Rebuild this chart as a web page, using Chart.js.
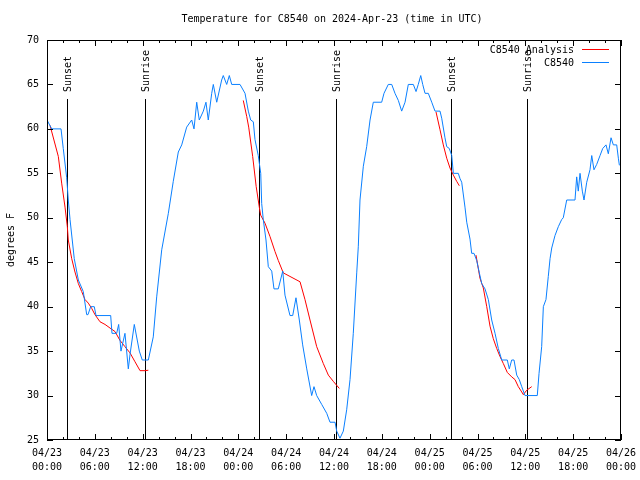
<!DOCTYPE html>
<html><head><meta charset="utf-8">
<script src="https://cdn.jsdelivr.net/npm/chart.js@4/dist/chart.umd.min.js"></script>
<style>html,body{margin:0;padding:0;background:#fff}#wrap{width:640px;height:480px}</style>
</head><body><div id="wrap"><canvas id="c" width="640" height="480"></canvas></div>
<script>
// Hours since 04/23 00:00 UTC
const obsHours = [0,0.59,1.76,2.04,2.47,2.67,2.89,3.42,3.93,4.55,4.98,5.14,5.48,5.93,6.15,7.99,8.15,8.74,8.99,9.28,9.78,10.2,10.41,10.95,11.58,11.95,12.71,13.33,13.76,14.39,15.22,15.84,16.47,16.9,17.52,18.15,18.44,18.78,19.1,19.61,19.94,20.23,20.66,20.86,21.29,21.91,22.11,22.54,22.87,23.17,24.21,24.84,25.25,25.55,25.88,26.09,26.5,26.81,26.93,27.13,27.47,27.76,28.19,28.47,29.01,29.57,29.85,30.48,30.82,31.23,31.65,32.07,32.58,33.2,33.49,33.83,34.46,35.09,35.5,36.13,36.34,36.75,37.17,37.59,38.01,38.42,38.85,39.05,39.26,39.68,40.1,40.52,40.93,41.98,42.27,42.81,43.24,43.65,44.07,44.49,44.91,45.32,45.95,46.29,46.57,46.88,47.13,47.42,47.83,48.26,48.67,49.3,49.51,49.92,50.14,50.46,50.77,50.97,51.59,51.81,52.02,52.43,52.65,53.06,53.27,53.56,53.9,54.23,54.53,54.94,55.36,55.78,56.2,56.61,57.04,57.74,57.99,58.29,58.58,58.92,59.24,59.55,59.96,61.5,61.72,62.05,62.26,62.59,62.88,63.1,63.31,63.72,64.14,64.56,64.76,65.19,66.23,66.44,66.64,66.86,67.15,67.36,67.7,68.11,68.33,68.61,68.95,69.37,69.71,70.12,70.41,70.75,71.04,71.46,71.67,71.8];
const obsTemps = [61,60,60,57.8,54.5,52,49.8,45.4,43,41.7,39.1,39.1,40,40,39,39,37,37,38,35,37,33,34.6,38,35,34,34,36.6,41.1,46.4,50.5,54.1,57.4,58.2,60.2,61,60,63,61,62,63,61,64,65,63,65.5,66,65,66,65,65,64,62,61,60.8,58.8,57,55,51.6,49.8,47.5,44.5,44,42,42,44,41.3,39,39,41,38.5,35.7,33,30,31,30,29,28,27,27,26,25.2,26,28.4,31.8,37,43.8,46.8,52,55.8,58,61,63,63,64,65,65,64,63.2,62,63,65,65,64.2,65,66,65,64,64,63,62,62,61.2,59,58,57.8,57,55,55,54.4,54,51.2,49.5,47.6,46,46,45.2,43.8,42.6,42,40.8,38.5,37,35.3,34,34,33,34,34,32.3,31.8,31,30,30,32.5,35.5,40,40.8,43.4,45.4,46.6,48,49,49.8,50,52,52,54.6,53,55,53,52,54,55.4,57,55.4,56,57,57.8,58.2,57.2,59,58.2,58.2,56.7,55.9];
// C8540 Analysis (null = break between runs)
const anaHours = [0.38,1.42,1.84,2.26,2.55,2.67,3.1,3.51,3.93,4.35,4.77,5.18,5.61,6.02,6.65,7.28,7.9,8.53,9.16,9.78,10.41,11.04,11.67,12.3,12.71,
  18,
  24.62,25.05,25.3,25.8,26.24,26.63,26.8,27.34,27.97,28.6,29.01,29.64,30.48,31.11,31.74,32.36,32.99,33.83,34.66,35.29,35.91,36.67,
  42,
  48.8,49.3,49.71,50.14,50.55,50.97,51.39,51.72,
  52.8,
  53.81,54.31,54.73,55.16,55.57,55.98,56.41,56.82,57.24,57.74,58.29,58.7,59.12,59.55,59.75,60.17,60.8];
const anaTemps = [60.4,56.9,53.9,51.2,49,47.5,45.4,43.9,42.6,41.7,40.8,40.4,39.8,39.1,38.3,38,37.6,37.2,36.2,35.5,34.8,33.8,32.8,32.8,32.85,
  null,
  63.2,61.4,60.2,56.9,53.5,51.2,50.3,49.4,47.9,46.2,45.2,43.8,43.4,43.1,42.8,40.8,38.5,35.5,33.6,32.3,31.6,30.8,
  null,
  61.9,59.9,58.2,56.7,55.6,54.8,54.1,53.6,
  null,
  45.8,43.2,42.1,40,37.8,36.4,35.3,34.4,33.6,32.6,32.1,31.8,31,30.4,30.1,30.6,31];
const sunHours = [2.55,12.33,26.63,36.3,50.7,60.25];
const sunLabels = ['Sunset','Sunrise','Sunset','Sunrise','Sunset','Sunrise'];
const xTickHours = [0,6,12,18,24,30,36,42,48,54,60,66,72];
const xTickLabels = [['04/23','00:00'],['04/23','06:00'],['04/23','12:00'],['04/23','18:00'],['04/24','00:00'],['04/24','06:00'],['04/24','12:00'],['04/24','18:00'],['04/25','00:00'],['04/25','06:00'],['04/25','12:00'],['04/25','18:00'],['04/26','00:00']];
const yTickValues = [25,30,35,40,45,50,55,60,65,70];
const titleText = 'Temperature for C8540 on 2024-Apr-23 (time in UTC)';
const seriesNames = ['C8540 Analysis','C8540'];
const seriesColors = ['#ff0000','#0a80ff'];

const FONT = '10px "DejaVu Sans Mono", monospace';
const obsData = obsHours.map((h,i)=>({x:h,y:obsTemps[i]}));
const anaData = anaHours.map((h,i)=>({x:h,y:anaTemps[i]}));

const decor = {
  id:'decor',
  beforeDraw(chart){
    const ctx=chart.ctx; ctx.save(); ctx.fillStyle='#fff'; ctx.fillRect(0,0,chart.width,chart.height); ctx.restore();
  },
  beforeDatasetsDraw(chart){
    const ctx=chart.ctx, xs=chart.scales.x, a=chart.chartArea;
    ctx.save();
    ctx.strokeStyle='#000'; ctx.lineWidth=1; ctx.fillStyle='#000'; ctx.font=FONT;
    sunHours.forEach((h,i)=>{
      const px=Math.round(xs.getPixelForValue(h))+0.5;
      ctx.beginPath(); ctx.moveTo(px,99); ctx.lineTo(px,a.bottom); ctx.stroke();
      ctx.save(); ctx.translate(px+1,92); ctx.rotate(-Math.PI/2);
      ctx.textAlign='left'; ctx.textBaseline='middle'; ctx.fillText(sunLabels[i],0,0);
      ctx.restore();
    });
    ctx.restore();
  },
  afterDraw(chart){
    const ctx=chart.ctx, xs=chart.scales.x, ys=chart.scales.y, a=chart.chartArea;
    ctx.save();
    ctx.strokeStyle='#000'; ctx.lineWidth=1;
    ctx.strokeRect(a.left+0.5,a.top+0.5,a.right-a.left-1,a.bottom-a.top-1);
    ctx.beginPath();
    for(let h=0;h<=72;h+=2){
      const px=Math.round(xs.getPixelForValue(h))+0.5;
      const len=(h%6===0)?6:3;
      ctx.moveTo(px,a.bottom); ctx.lineTo(px,a.bottom-len);
      ctx.moveTo(px,a.top); ctx.lineTo(px,a.top+len);
    }
    yTickValues.forEach(v=>{
      const py=Math.round(ys.getPixelForValue(v))+0.5;
      ctx.moveTo(a.left,py); ctx.lineTo(a.left+6,py);
      ctx.moveTo(a.right,py); ctx.lineTo(a.right-6,py);
    });
    ctx.stroke();
    ctx.fillStyle='#000'; ctx.font=FONT; ctx.textBaseline='middle';
    ctx.textAlign='center'; ctx.fillText(titleText,332,19);
    ctx.textAlign='right';
    const ly=[50,63];
    seriesNames.forEach((n,i)=>{
      ctx.fillStyle='#000'; ctx.fillText(n,574,ly[i]);
      ctx.strokeStyle=seriesColors[i]; ctx.beginPath(); ctx.moveTo(582,ly[i]-0.5); ctx.lineTo(609,ly[i]-0.5); ctx.stroke();
    });
    ctx.restore();
  }
};

new Chart(document.getElementById('c'),{
  type:'line',
  data:{datasets:[
    {label:seriesNames[1],data:obsData,borderColor:seriesColors[1],borderWidth:1,pointRadius:0,tension:0,fill:false,order:0},
    {label:seriesNames[0],data:anaData,borderColor:seriesColors[0],borderWidth:1,pointRadius:0,tension:0,fill:false,spanGaps:false,order:1}
  ]},
  options:{
    responsive:false,animation:false,devicePixelRatio:1,
    layout:{padding:{left:0,top:40,right:19,bottom:0}},
    plugins:{legend:{display:false},tooltip:{enabled:false},title:{display:false}},
    scales:{
      x:{type:'linear',min:0,max:72,
        afterBuildTicks(s){s.ticks=xTickHours.map(v=>({value:v}));},
        afterFit(s){s.height=40;s.paddingLeft=0;s.paddingRight=0;},
        grid:{display:false,drawTicks:false},border:{display:false},
        ticks:{autoSkip:false,maxRotation:0,padding:7,color:'#000',font:{family:'"DejaVu Sans Mono", monospace',size:10,lineHeight:1.35},
          callback:(v,i)=>xTickLabels[i]}},
      y:{type:'linear',min:25,max:70,
        afterBuildTicks(s){s.ticks=yTickValues.map(v=>({value:v}));},
        afterFit(s){s.width=47;s.paddingTop=0;s.paddingBottom=0;},
        grid:{display:false,drawTicks:false},border:{display:false},
        ticks:{padding:8,color:'#000',font:{family:'"DejaVu Sans Mono", monospace',size:10}},
        title:{display:true,text:'degrees F',color:'#000',padding:{top:5,bottom:0},font:{family:'"DejaVu Sans Mono", monospace',size:10}}}
    }
  },
  plugins:[decor]
});
</script></body></html>
